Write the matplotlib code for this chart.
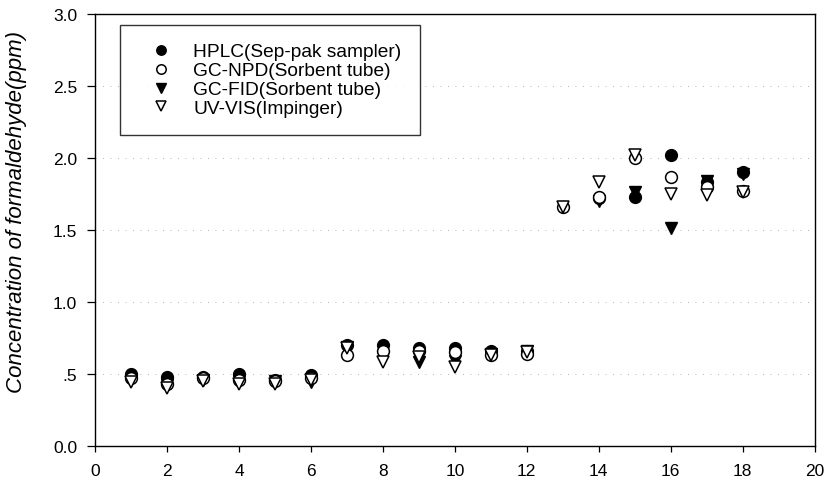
import numpy as np
import matplotlib
matplotlib.use("Agg")
import matplotlib.pyplot as plt

plt.rcParams['font.family'] = ['Liberation Sans', 'DejaVu Sans']

sample = [1, 2, 3, 4, 5, 6, 7, 8, 9, 10, 11, 12, 13, 14, 15, 16, 17, 18]
hplc   = [0.50, 0.48, 0.48, 0.50, 0.46, 0.49, 0.70, 0.70, 0.68, 0.68, 0.66, 0.66, np.nan, 1.72, 1.73, 2.02, 1.83, 1.90]
gc_npd = [0.47, 0.43, 0.47, 0.46, 0.45, 0.47, 0.63, 0.66, 0.66, 0.65, 0.63, 0.64, 1.66, 1.73, 2.00, 1.87, 1.80, 1.77]
gc_fid = [0.46, 0.42, 0.46, 0.45, 0.45, 0.44, 0.69, 0.62, 0.58, 0.59, 0.64, 0.66, np.nan, 1.70, 1.76, 1.51, 1.84, 1.89]
uv_vis = [0.44, 0.40, 0.45, 0.43, 0.43, 0.46, 0.68, 0.58, 0.62, 0.55, 0.63, 0.65, 1.66, 1.83, 2.02, 1.75, 1.74, 1.76]

labels = ['HPLC(Sep-pak sampler)', 'GC-NPD(Sorbent tube)', 'GC-FID(Sorbent tube)', 'UV-VIS(Impinger)']
yticks = [0.0, 0.5, 1.0, 1.5, 2.0, 2.5, 3.0]
yticklabels = ['0.0', '.5', '1.0', '1.5', '2.0', '2.5', '3.0']
xticks = [0, 2, 4, 6, 8, 10, 12, 14, 16, 18, 20]

fig = plt.figure(figsize=(8.27, 4.81), dpi=100)
ax = fig.add_axes([0.115, 0.071, 0.87, 0.898])

ms = 8.5
ax.plot(sample, hplc, linestyle='none', marker='o', ms=ms, mfc='black', mec='black', label=labels[0], zorder=3)
ax.plot(sample, gc_fid, linestyle='none', marker='v', ms=ms + 0.5, mfc='black', mec='black', label=labels[2], zorder=4)
ax.plot(sample, gc_npd, linestyle='none', marker='o', ms=ms, mfc='white', mec='black', mew=1.1, label=labels[1], zorder=5)
ax.plot(sample, uv_vis, linestyle='none', marker='v', ms=ms + 0.5, mfc='white', mec='black', mew=1.1, label=labels[3], zorder=6)

ax.set_xlim(0, 20)
ax.set_ylim(0, 3.0)
ax.set_xticks(xticks)
ax.set_yticks(yticks)
ax.set_yticklabels(yticklabels)
ax.tick_params(axis='x', direction='out', length=4, width=0.9, pad=8, labelsize=12.5, colors='black')
ax.tick_params(axis='y', direction='out', length=6, width=0.9, pad=7, labelsize=12.5, colors='black')
for s in ax.spines.values():
    s.set_linewidth(1.0)

for y in yticks[1:-1]:
    ax.axhline(y, color='#999999', linestyle=(0, (1, 8)), linewidth=0.6, zorder=1)

ax.set_ylabel('Concentration of formaldehyde(ppm)', fontsize=16, fontstyle='italic')
ax.yaxis.set_label_coords(-0.094, 0.544)

h, l = ax.get_legend_handles_labels()
order = [0, 2, 1, 3]
leg = ax.legend([h[i] for i in order], [l[i] for i in order], loc='upper left',
                bbox_to_anchor=(0.035, 0.975), frameon=True, fancybox=False,
                edgecolor='black', fontsize=13.8, borderpad=0.95, handlelength=2.4,
                handletextpad=0.45, labelspacing=0.08, markerscale=0.8,
                borderaxespad=0.0)
leg.get_frame().set_linewidth(1.0)

fig.savefig('out.png', dpi=100)
